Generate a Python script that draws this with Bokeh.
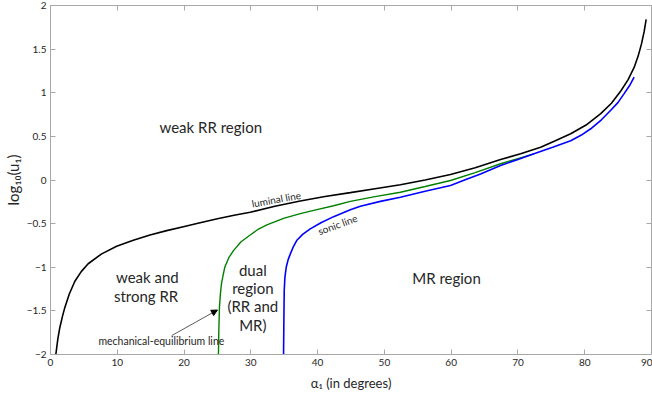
from bokeh.plotting import figure
from bokeh.models import LinearAxis, Arrow, NormalHead, Label, Range1d, FixedTicker
from bokeh.embed import file_html
from bokeh.resources import INLINE

# ---- data ----
luminal_x = [0.8, 1.1, 1.4, 1.8, 2.15, 2.8, 3.65, 4.6, 5.64, 7.6, 9.9, 12.4, 14.9, 17.4, 19.9,
             22.4, 25.0, 27.5, 29.9, 33.6, 37.4, 41.1, 44.9, 48.6, 52.4, 56.1, 59.9, 63.6, 67.4,
             70.4, 73.4, 75.6, 77.9, 80.2, 82.4, 84.0, 85.4, 86.5, 87.4, 88.0, 88.5, 88.9, 89.2]
luminal_y = [-2.0, -1.82, -1.69, -1.56, -1.46, -1.31, -1.16, -1.05, -0.96, -0.85, -0.76, -0.69,
             -0.63, -0.58, -0.535, -0.49, -0.445, -0.405, -0.37, -0.30, -0.24, -0.19, -0.145,
             -0.10, -0.055, 0.0, 0.063, 0.14, 0.235, 0.30, 0.376, 0.45, 0.53, 0.63, 0.76, 0.88,
             1.02, 1.15, 1.29, 1.42, 1.56, 1.70, 1.84]

mech_x = [25.15, 25.2, 25.3, 25.45, 25.6, 25.85, 26.1, 26.7, 27.4, 28.5, 29.9, 31.0, 32.4, 34.9,
          37.4, 39.9, 42.4, 44.9, 48.6, 52.4, 56.1, 59.9, 63.6, 67.4, 70.0, 72.4]
mech_y = [-2.0, -1.75, -1.46, -1.30, -1.19, -1.09, -1.0, -0.89, -0.81, -0.71, -0.63, -0.57,
          -0.515, -0.44, -0.385, -0.34, -0.295, -0.245, -0.19, -0.14, -0.075, -0.006, 0.085,
          0.186, 0.245, 0.30]

sonic_x = [34.9, 34.95, 35.0, 35.1, 35.3, 35.6, 35.9, 36.4, 36.9, 37.8, 38.9, 40.5, 42.4, 44.9,
           46.4, 49.4, 52.4, 56.1, 59.9, 62.2, 64.4, 67.4, 70.0, 72.4, 75.2, 77.9, 79.5, 80.9,
           82.5, 83.9, 85.0, 85.9, 86.7, 87.4]
sonic_y = [-2.0, -1.6, -1.27, -1.12, -1.0, -0.91, -0.85, -0.76, -0.69, -0.62, -0.56, -0.49,
           -0.42, -0.34, -0.30, -0.245, -0.197, -0.13, -0.063, 0.005, 0.07, 0.166, 0.235, 0.30,
           0.375, 0.45, 0.515, 0.587, 0.69, 0.80, 0.89, 0.99, 1.08, 1.18]

x_ticks = [0, 10, 20, 30, 40, 50, 60, 70, 80, 90]
y_ticks = [-2, -1.5, -1, -0.5, 0, 0.5, 1, 1.5, 2]

AXIS_COLOR = "#a8a8a8"
TEXT_COLOR = "#262626"
FONT = "Lato"

p = figure(width=652, height=403, x_range=Range1d(0, 90), y_range=Range1d(-2, 2),
           output_backend="svg", toolbar_location=None,
           min_border_left=50, min_border_right=1, min_border_top=5, min_border_bottom=49)
p.grid.visible = False
p.outline_line_color = None
p.background_fill_color = "white"
p.border_fill_color = "white"

def style_axis(ax, ticks, show_labels=True):
    ax.ticker = FixedTicker(ticks=ticks)
    ax.axis_line_color = AXIS_COLOR
    ax.major_tick_line_color = AXIS_COLOR
    ax.major_tick_in = 5
    ax.major_tick_out = 0
    ax.minor_tick_line_color = None
    ax.major_label_text_font = FONT
    ax.major_label_text_font_size = "10px"
    if show_labels:
        ax.major_label_text_color = TEXT_COLOR
        ax.major_label_standoff = 4
    else:
        ax.major_label_text_color = None
        ax.major_label_standoff = 0

style_axis(p.xaxis[0], x_ticks)
style_axis(p.yaxis[0], y_ticks)
p.xaxis.axis_label = "α₁ (in degrees)"
p.yaxis.axis_label = "log₁₀(u₁)"
for ax in (p.xaxis[0], p.yaxis[0]):
    ax.axis_label_text_font = FONT
    ax.axis_label_text_font_style = "normal"
    ax.axis_label_text_color = TEXT_COLOR
p.xaxis.axis_label_standoff = 6
p.yaxis.axis_label_standoff = 2
p.xaxis.axis_label_text_font_size = "13px"
p.yaxis.axis_label_text_font_size = "15px"

top = LinearAxis()
style_axis(top, x_ticks, show_labels=False)
p.add_layout(top, "above")
right = LinearAxis()
style_axis(right, y_ticks, show_labels=False)
p.add_layout(right, "right")

p.line(luminal_x, luminal_y, line_color="black", line_width=1.6)
p.line(mech_x, mech_y, line_color="#008000", line_width=1.4)
p.line(sonic_x, sonic_y, line_color="#0000ff", line_width=1.6)

def add_text(x, y, t, size, angle=0.0):
    p.add_layout(Label(x=x, y=y, text=t, text_font=FONT, text_font_size=size,
                       text_color=TEXT_COLOR, text_align="center", text_baseline="middle",
                       angle=angle))

add_text(24.0, 0.61, "weak RR region", "15px")
add_text(14.5, -1.115, "weak and", "15px")
add_text(14.6, -1.325, "strong  RR", "15px")
add_text(30.3, -1.03, "dual", "15px")
add_text(30.3, -1.24, "region", "15px")
add_text(30.3, -1.447, "(RR and", "15px")
add_text(30.3, -1.66, "MR)", "15px")
add_text(59.3, -1.12, "MR region", "15px")
add_text(33.8, -0.22, "luminal line", "10px", angle=0.18)
add_text(43.0, -0.51, "sonic line", "10px", angle=0.35)
add_text(16.6, -1.84, "mechanical-equilibrium line", "10.5px")

p.add_layout(Arrow(end=NormalHead(size=6, fill_color="black", line_color="black"),
                   x_start=18.15, y_start=-1.783, x_end=25.0, y_end=-1.49,
                   line_color="#333333", line_width=0.8))

open("out.html", "w").write(file_html(p, INLINE))
